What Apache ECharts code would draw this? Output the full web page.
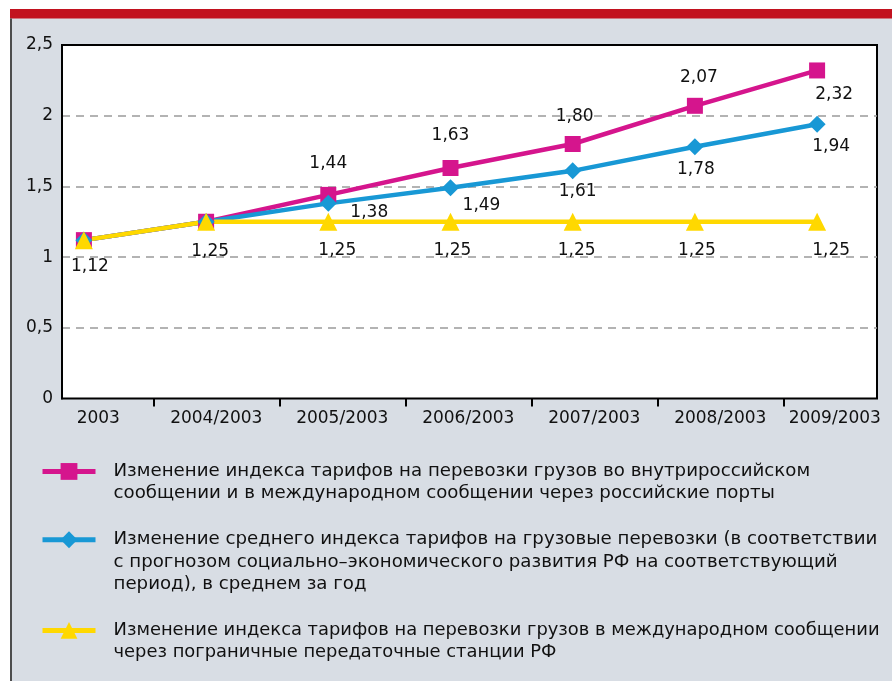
<!DOCTYPE html>
<html>
<head>
<meta charset="utf-8">
<script src="https://cdn.jsdelivr.net/npm/echarts@6/dist/echarts.min.js"></script>
<style>
  html, body { margin: 0; padding: 0; background: #fff; }
  #chart { width: 892px; height: 681px; }
</style>
</head>
<body>
<div id="chart"></div>
<script>
// categories and values
const categories = ['2003', '2004/2003', '2005/2003', '2006/2003', '2007/2003', '2008/2003', '2009/2003'];
const domesticValues = [1.12, 1.25, 1.44, 1.63, 1.80, 2.07, 2.32];
const averageValues = [1.12, 1.25, 1.38, 1.49, 1.61, 1.78, 1.94];
const borderValues = [1.12, 1.25, 1.25, 1.25, 1.25, 1.25, 1.25];

const seriesNames = [
  'Изменение индекса тарифов на перевозки грузов во внутрироссийском сообщении и в международном сообщении через российские порты',
  'Изменение среднего индекса тарифов на грузовые перевозки (в соответствии с прогнозом социально–экономического развития РФ на соответствующий период), в среднем за год',
  'Изменение индекса тарифов на перевозки грузов в международном сообщении через пограничные передаточные станции РФ'
];
const legendLines = [
  ['Изменение индекса тарифов на перевозки грузов во внутрироссийском', 'сообщении и в международном сообщении через российские порты'],
  ['Изменение среднего индекса тарифов на грузовые перевозки (в соответствии', 'с прогнозом социально–экономического развития РФ на соответствующий', 'период), в среднем за год'],
  ['Изменение индекса тарифов на перевозки грузов в международном сообщении', 'через пограничные передаточные станции РФ']
];

// label placement (style only): offset from point, null = no label
const domesticLabelOffsets = [null, null, [0, -31], [0, -32], [2, -27], [4, -28], [17, 24]];
const averageLabelOffsets = [null, null, [41, 9], [31, 18], [5, 21], [1, 23], [14, 22]];
const borderLabelOffsets = [[6, 26], [4, 30], [9, 29], [2, 29], [4, 29], [2, 29], [14, 29]];

const FONT = 'DejaVu Sans';
const MAGENTA = '#d5158d';
const BLUE = '#1898d5';
const YELLOW = '#ffd800';

const fmt = v => v.toFixed(2).replace('.', ',');

function buildData(values, offsets) {
  return values.map((v, i) => ({
    value: v,
    label: offsets[i]
      ? { show: true, position: 'inside', offset: offsets[i] }
      : { show: false }
  }));
}

function makeSeries(name, values, offsets, color, symbol, size) {
  return {
    name: name,
    type: 'line',
    xAxisIndex: 1,
    yAxisIndex: 1,
    data: buildData(values, offsets),
    symbol: symbol,
    symbolSize: size,
    lineStyle: { color: color, width: 4.5 },
    itemStyle: { color: color, borderWidth: 0 },
    label: {
      formatter: p => fmt(p.value),
      fontFamily: FONT,
      fontSize: 17,
      color: '#111'
    },
    emphasis: { disabled: true }
  };
}

const legendTops = [438, 484, 597];
const legendFontSizes = [18.2, 18.2, 17.9];
const legendLineHeight = 22.3;

const chart = echarts.init(document.getElementById('chart'));

const option = {
  animation: false,
  backgroundColor: '#d8dde4',
  graphic: [
    { type: 'rect', shape: { x: 0, y: 0, width: 892, height: 9 }, style: { fill: '#fff' } },
    { type: 'rect', shape: { x: 0, y: 0, width: 10, height: 681 }, style: { fill: '#fff' } },
    { type: 'rect', shape: { x: 10, y: 9, width: 882, height: 9.5 }, style: { fill: '#c2121f' } },
    { type: 'rect', shape: { x: 10, y: 18.5, width: 2, height: 663 }, style: { fill: '#4d4d4d' } }
  ],
  grid: [
    { left: 62, right: 15, top: 45, bottom: 282.5, show: true, backgroundColor: '#fff', borderColor: '#000', borderWidth: 2, outerBoundsMode: 'none' },
    { left: 83.9, right: 74.9, top: 45, bottom: 282.5, outerBoundsMode: 'none' },
    { left: 27.3, width: 882, top: 45, bottom: 282.5, outerBoundsMode: 'none' }
  ],
  xAxis: [
    { gridIndex: 0, type: 'value', show: false },
    { gridIndex: 1, type: 'category', data: categories, boundaryGap: false, show: false },
    {
      gridIndex: 2,
      type: 'category',
      data: categories,
      boundaryGap: true,
      axisLine: { show: false },
      axisTick: {
        show: true,
        length: 8,
        interval: (i) => i > 0,
        lineStyle: { color: '#000', width: 2 }
      },
      axisLabel: {
        fontFamily: FONT,
        fontSize: 17,
        color: '#111',
        margin: 12,
        interval: 0,
        // first and last labels sit inside the frame
        formatter: (v, i) => i === 0 ? '{first|' + v + '}' : i === categories.length - 1 ? '{last|' + v + '}' : v,
        rich: {
          first: { fontFamily: FONT, fontSize: 17, color: '#111', padding: [0, 0, 0, 16] },
          last: { fontFamily: FONT, fontSize: 17, color: '#111', padding: [0, 23, 0, 0] }
        }
      },
      splitLine: { show: false }
    }
  ],
  yAxis: [
    {
      gridIndex: 0,
      type: 'value',
      min: 0,
      max: 2.5,
      interval: 0.5,
      axisLine: { show: true, lineStyle: { color: '#000', width: 2 } },
      axisTick: { show: false },
      axisLabel: { fontFamily: FONT, fontSize: 17, color: '#111', margin: 9, formatter: v => String(v).replace('.', ',') },
      splitLine: {
        show: true,
        showMinLine: false,
        showMaxLine: false,
        lineStyle: { color: '#9a9a9a', width: 1.5, type: [8, 6] }
      }
    },
    { gridIndex: 1, type: 'value', min: 0, max: 2.5, show: false },
    { gridIndex: 2, type: 'value', min: 0, max: 2.5, show: false }
  ],
  legend: seriesNames.map((name, i) => {
    const n = legendLines[i].length;
    return {
      data: [name],
      left: 40,
      top: legendTops[i],
      orient: 'vertical',
      padding: 0,
      itemWidth: 53,
      itemHeight: 21,
      selectedMode: false,
      lineStyle: { width: 5 },
      // leading blank lines keep the first text line level with the icon
      formatter: () => '\n'.repeat(n - 1) + legendLines[i].join('\n'),
      textStyle: {
        fontFamily: FONT,
        fontSize: legendFontSizes[i],
        color: '#111',
        lineHeight: legendLineHeight,
        padding: [0, 0, 0, 13]
      }
    };
  }),
  series: [
    makeSeries(seriesNames[0], domesticValues, domesticLabelOffsets, MAGENTA, 'rect', 16),
    makeSeries(seriesNames[1], averageValues, averageLabelOffsets, BLUE, 'diamond', 17),
    makeSeries(seriesNames[2], borderValues, borderLabelOffsets, YELLOW, 'triangle', 18)
  ]
};

chart.setOption(option);
</script>
</body>
</html>
